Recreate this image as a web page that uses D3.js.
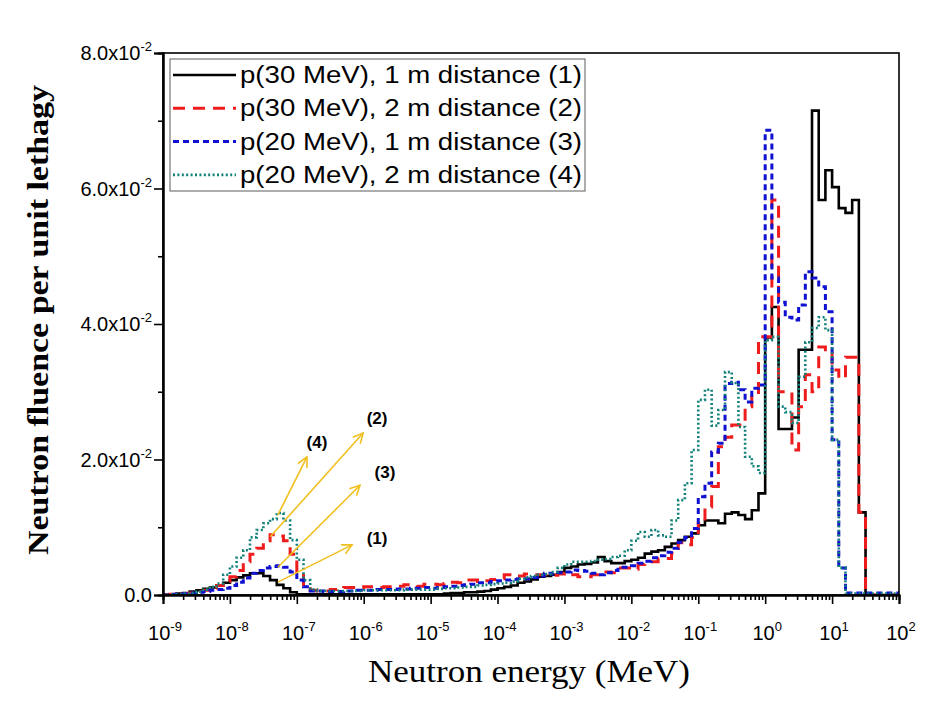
<!DOCTYPE html>
<html>
<head>
<meta charset="utf-8">
<script src="https://cdn.jsdelivr.net/npm/d3@7"></script>
<style>
  html, body { margin: 0; padding: 0; background: #fff; }
  svg { display: block; }
</style>
</head>
<body>
<svg id="chart" width="940" height="702"></svg>
<script>
// ---------------- DATA ----------------
// Energy bins: 10 logarithmic bins per decade from 1e-9 MeV to 1e2 MeV
const binsPerDecade = 10;
const energyMinExp = -9;
const energyMaxExp = 2;

const seriesNames = [
  "p(30 MeV), 1 m distance (1)",
  "p(30 MeV), 2 m distance (2)",
  "p(20 MeV), 1 m distance (3)",
  "p(20 MeV), 2 m distance (4)"
];

// neutron fluence per unit lethargy, one value per bin (110 bins)
const fluence1 = [
  0.0000,0.0001,0.0002,0.0003,0.0005,0.0007,0.0009,0.0011,0.0014,0.0018,
  0.0022,0.0026,0.0029,0.0032,0.0032,0.0028,0.0022,0.0015,0.0010,0.0004,
  0.0001,0.0001,0.0001,0.0001,0.0001,0.0001,0.0001,0.0001,0.0001,0.0001,
  0.0001,0.0001,0.0001,0.0001,0.0001,0.0001,0.0001,0.0001,0.0001,0.0001,
  0.0001,0.0001,0.0002,0.0003,0.0003,0.0004,0.0004,0.0005,0.0006,0.0008,
  0.0010,0.0012,0.0014,0.0018,0.0020,0.0023,0.0027,0.0028,0.0030,0.0034,
  0.0040,0.0042,0.0045,0.0046,0.0048,0.0056,0.0050,0.0047,0.0047,0.0050,
  0.0052,0.0055,0.0061,0.0064,0.0066,0.0071,0.0076,0.0081,0.0086,0.0091,
  0.0103,0.0110,0.0110,0.0106,0.0120,0.0122,0.0118,0.0112,0.0125,0.0150,
  0.0380,0.0425,0.0245,0.0245,0.0262,0.0362,0.0362,0.0715,0.0583,0.0627,
  0.0602,0.0571,0.0564,0.0583,0.0122,0.0000,0.0000,0.0000,0.0000,0.0000
];
const fluence2 = [
  0.0000,0.0001,0.0001,0.0002,0.0003,0.0005,0.0007,0.0010,0.0014,0.0020,
  0.0027,0.0036,0.0049,0.0060,0.0069,0.0080,0.0089,0.0087,0.0080,0.0060,
  0.0034,0.0012,0.0007,0.0006,0.0006,0.0008,0.0010,0.0011,0.0011,0.0010,
  0.0012,0.0012,0.0011,0.0012,0.0012,0.0013,0.0015,0.0015,0.0013,0.0016,
  0.0016,0.0015,0.0017,0.0019,0.0018,0.0022,0.0022,0.0020,0.0021,0.0023,
  0.0024,0.0030,0.0030,0.0028,0.0031,0.0030,0.0030,0.0030,0.0029,0.0031,
  0.0032,0.0030,0.0027,0.0027,0.0030,0.0034,0.0034,0.0033,0.0040,0.0040,
  0.0038,0.0045,0.0049,0.0049,0.0054,0.0054,0.0062,0.0077,0.0074,0.0085,
  0.0105,0.0130,0.0160,0.0219,0.0233,0.0251,0.0251,0.0278,0.0295,0.0381,
  0.0381,0.0583,0.0300,0.0300,0.0214,0.0278,0.0325,0.0300,0.0366,0.0357,
  0.0332,0.0320,0.0351,0.0351,0.0122,0.0000,0.0000,0.0000,0.0000,0.0000
];
const fluence3 = [
  0.0000,0.0001,0.0001,0.0002,0.0003,0.0004,0.0005,0.0007,0.0008,0.0010,
  0.0014,0.0019,0.0025,0.0032,0.0036,0.0040,0.0042,0.0043,0.0041,0.0034,
  0.0022,0.0012,0.0006,0.0006,0.0005,0.0005,0.0005,0.0006,0.0006,0.0007,
  0.0007,0.0007,0.0008,0.0008,0.0008,0.0009,0.0009,0.0010,0.0010,0.0011,
  0.0010,0.0011,0.0012,0.0013,0.0014,0.0015,0.0016,0.0018,0.0018,0.0020,
  0.0021,0.0022,0.0023,0.0024,0.0024,0.0026,0.0028,0.0032,0.0031,0.0033,
  0.0034,0.0037,0.0036,0.0035,0.0032,0.0030,0.0033,0.0036,0.0041,0.0041,
  0.0043,0.0047,0.0050,0.0055,0.0058,0.0063,0.0069,0.0078,0.0085,0.0098,
  0.0145,0.0165,0.0211,0.0224,0.0312,0.0314,0.0303,0.0285,0.0305,0.0310,
  0.0686,0.0468,0.0432,0.0410,0.0406,0.0428,0.0477,0.0468,0.0455,0.0418,
  0.0229,0.0040,0.0003,0.0003,0.0003,0.0003,0.0003,0.0003,0.0003,0.0003
];
const fluence4 = [
  0.0000,0.0001,0.0001,0.0002,0.0003,0.0005,0.0008,0.0012,0.0017,0.0030,
  0.0042,0.0055,0.0066,0.0085,0.0096,0.0106,0.0112,0.0121,0.0110,0.0081,
  0.0052,0.0022,0.0008,0.0006,0.0006,0.0006,0.0006,0.0006,0.0006,0.0006,
  0.0007,0.0007,0.0007,0.0007,0.0007,0.0007,0.0008,0.0008,0.0008,0.0008,
  0.0008,0.0009,0.0010,0.0010,0.0011,0.0012,0.0012,0.0014,0.0015,0.0016,
  0.0017,0.0018,0.0020,0.0024,0.0026,0.0028,0.0030,0.0031,0.0034,0.0040,
  0.0045,0.0049,0.0049,0.0049,0.0050,0.0052,0.0053,0.0056,0.0058,0.0066,
  0.0080,0.0093,0.0086,0.0096,0.0088,0.0086,0.0110,0.0140,0.0165,0.0214,
  0.0288,0.0303,0.0250,0.0273,0.0329,0.0313,0.0248,0.0204,0.0190,0.0180,
  0.0376,0.0381,0.0278,0.0270,0.0254,0.0322,0.0373,0.0394,0.0410,0.0391,
  0.0229,0.0040,0.0002,0.0002,0.0002,0.0002,0.0002,0.0002,0.0002,0.0002
];

const yTickValues = [0, 0.02, 0.04, 0.06, 0.08];
const yTickLabels = ["0.0", "2.0x10", "4.0x10", "6.0x10", "8.0x10"];
const yTickSup = ["", "-2", "-2", "-2", "-2"];
const xTickExponents = [-9,-8,-7,-6,-5,-4,-3,-2,-1,0,1,2];

// annotation arrows
const annotLabels = ["(4)", "(2)", "(3)", "(1)"];
const annotFromE = [5.2e-8, 4.0e-8, 5.2e-8, 5.2e-8];
const annotFromV = [0.0118, 0.0086, 0.0041, 0.0019];
const annotToE   = [1.42e-7, 9.8e-7, 8.8e-7, 6.7e-7];
const annotToV   = [0.0204, 0.0239, 0.0162, 0.0074];
const annotLabE  = [2.0e-7, 1.58e-6, 2.08e-6, 1.58e-6];
const annotLabV  = [0.0226, 0.0261, 0.0182, 0.0084];

// ---------------- CHART ----------------
(function () {
const svg = d3.select("#chart");
const pL = 163, pR = 899, pT = 53, pB = 595;

const x = d3.scaleLog().domain([Math.pow(10, energyMinExp), Math.pow(10, energyMaxExp)]).range([pL, pR]);
const y = d3.scaleLinear().domain([0, 0.08]).range([pB, pT]);

const nBins = (energyMaxExp - energyMinExp) * binsPerDecade;
const edges = d3.range(nBins + 1).map(i => Math.pow(10, energyMinExp + i / binsPerDecade));

const styles = [
  { color: "#000000", width: 2.6, dash: null },
  { color: "#ee1c1c", width: 3, dash: "12,8" },
  { color: "#1010d0", width: 3, dash: "6,4" },
  { color: "#108078", width: 2.6, dash: "2,2.4" }
];
const allSeries = [fluence1, fluence2, fluence3, fluence4];

const defs = svg.append("defs");
defs.append("clipPath").attr("id", "plotclip")
  .append("rect").attr("x", pL).attr("y", pT - 5).attr("width", pR - pL).attr("height", pB - pT + 5);

const line = d3.line().x(d => x(d[0])).y(d => y(d[1])).curve(d3.curveStepAfter);

const plot = svg.append("g").attr("clip-path", "url(#plotclip)");
allSeries.forEach((vals, si) => {
  const pts = vals.map((v, i) => [edges[i], v]);
  pts.push([edges[nBins], vals[nBins - 1]]);
  const st = styles[si];
  plot.append("path")
    .attr("d", line(pts))
    .attr("fill", "none")
    .attr("stroke", st.color)
    .attr("stroke-width", st.width)
    .attr("stroke-dasharray", st.dash)
    .attr("stroke-linejoin", "miter");
});

// frame
svg.append("rect").attr("x", pL).attr("y", pT).attr("width", pR - pL).attr("height", pB - pT)
  .attr("fill", "none").attr("stroke", "#000").attr("stroke-width", 1.6);

// x axis
const xMajor = xTickExponents.map(e => Math.pow(10, e));
const xMinor = [];
xTickExponents.slice(0, -1).forEach(e => { for (let k = 2; k <= 9; k++) xMinor.push(k * Math.pow(10, e)); });
const gxMin = svg.append("g").attr("transform", `translate(0,${pB})`)
  .call(d3.axisBottom(x).tickValues(xMinor).tickSize(5).tickFormat(""));
const gxMaj = svg.append("g").attr("transform", `translate(0,${pB})`)
  .call(d3.axisBottom(x).tickValues(xMajor).tickSize(9).tickFormat(""));
[gxMin, gxMaj].forEach(g => {
  g.select(".domain").attr("stroke-width", 2);
  g.selectAll(".tick line").attr("stroke-width", 1.6);
});
const xl = svg.append("g");
xTickExponents.forEach(e => {
  const t = xl.append("text")
    .attr("x", x(Math.pow(10, e)) + 2)
    .attr("y", 640)
    .attr("text-anchor", "middle")
    .attr("font-family", "Liberation Sans, Arial, sans-serif")
    .attr("font-size", 20)
    .attr("fill", "#000");
  t.append("tspan").text("10");
  t.append("tspan").attr("dy", -9).attr("font-size", 13).text(String(e));
});

// y axis
const gyMin = svg.append("g").attr("transform", `translate(${pL},0)`)
  .call(d3.axisLeft(y).tickValues([0.01, 0.03, 0.05, 0.07]).tickSize(5).tickFormat(""));
const gyMaj = svg.append("g").attr("transform", `translate(${pL},0)`)
  .call(d3.axisLeft(y).tickValues(yTickValues).tickSize(9).tickFormat(""));
[gyMin, gyMaj].forEach(g => {
  g.select(".domain").attr("stroke-width", 2);
  g.selectAll(".tick line").attr("stroke-width", 1.6);
});
const yl = svg.append("g");
yTickValues.forEach((v, i) => {
  const t = yl.append("text")
    .attr("x", 152)
    .attr("y", y(v) + 7)
    .attr("text-anchor", "end")
    .attr("font-family", "Liberation Sans, Arial, sans-serif")
    .attr("font-size", 20)
    .attr("fill", "#000");
  t.append("tspan").text(yTickLabels[i]);
  if (yTickSup[i]) t.append("tspan").attr("dy", -9).attr("font-size", 13).text(yTickSup[i]);
});

// axis titles
svg.append("text")
  .attr("x", 529).attr("y", 682)
  .attr("text-anchor", "middle")
  .attr("font-family", "Liberation Serif, Times New Roman, serif")
  .attr("font-size", 31)
  .attr("textLength", 322).attr("lengthAdjust", "spacingAndGlyphs")
  .text("Neutron energy (MeV)");
svg.append("text")
  .attr("transform", "translate(48,320) rotate(-90)")
  .attr("text-anchor", "middle")
  .attr("font-family", "Liberation Serif, Times New Roman, serif")
  .attr("font-size", 29)
  .attr("font-weight", "bold")
  .attr("textLength", 470).attr("lengthAdjust", "spacingAndGlyphs")
  .text("Neutron fluence per unit lethagy");

// legend
const lg = svg.append("g");
lg.append("rect").attr("x", 170).attr("y", 59).attr("width", 415).attr("height", 132)
  .attr("fill", "#fff").attr("stroke", "#777").attr("stroke-width", 1.2);
seriesNames.forEach((name, i) => {
  const cy = 75 + i * 33.3;
  const st = styles[i];
  lg.append("line").attr("x1", 173).attr("x2", 236).attr("y1", cy).attr("y2", cy)
    .attr("stroke", st.color).attr("stroke-width", st.width).attr("stroke-dasharray", st.dash);
  lg.append("text").attr("x", 240).attr("y", cy + 8)
    .attr("font-family", "Liberation Sans, Arial, sans-serif")
    .attr("font-size", 23)
    .attr("textLength", 342).attr("lengthAdjust", "spacingAndGlyphs")
    .attr("fill", "#000")
    .text(name);
});

// annotation arrows
defs.append("marker").attr("id", "arrowhead")
  .attr("viewBox", "0 0 12 12").attr("refX", 11).attr("refY", 6)
  .attr("markerWidth", 12).attr("markerHeight", 12).attr("markerUnits", "userSpaceOnUse")
  .attr("orient", "auto")
  .append("path").attr("d", "M1,1 L11,6 L1,11").attr("fill", "none")
  .attr("stroke", "#f0c020").attr("stroke-width", 1.6);
const ann = svg.append("g");
annotLabels.forEach((lab, i) => {
  ann.append("line")
    .attr("x1", x(annotFromE[i])).attr("y1", y(annotFromV[i]))
    .attr("x2", x(annotToE[i])).attr("y2", y(annotToV[i]))
    .attr("stroke", "#f0c020").attr("stroke-width", 1.6)
    .attr("marker-end", "url(#arrowhead)");
  ann.append("text")
    .attr("x", x(annotLabE[i])).attr("y", y(annotLabV[i]) + 6)
    .attr("text-anchor", "middle")
    .attr("font-family", "Liberation Sans, Arial, sans-serif")
    .attr("font-size", 17).attr("font-weight", "bold")
    .text(lab);
});
})();
</script>
</body>
</html>
